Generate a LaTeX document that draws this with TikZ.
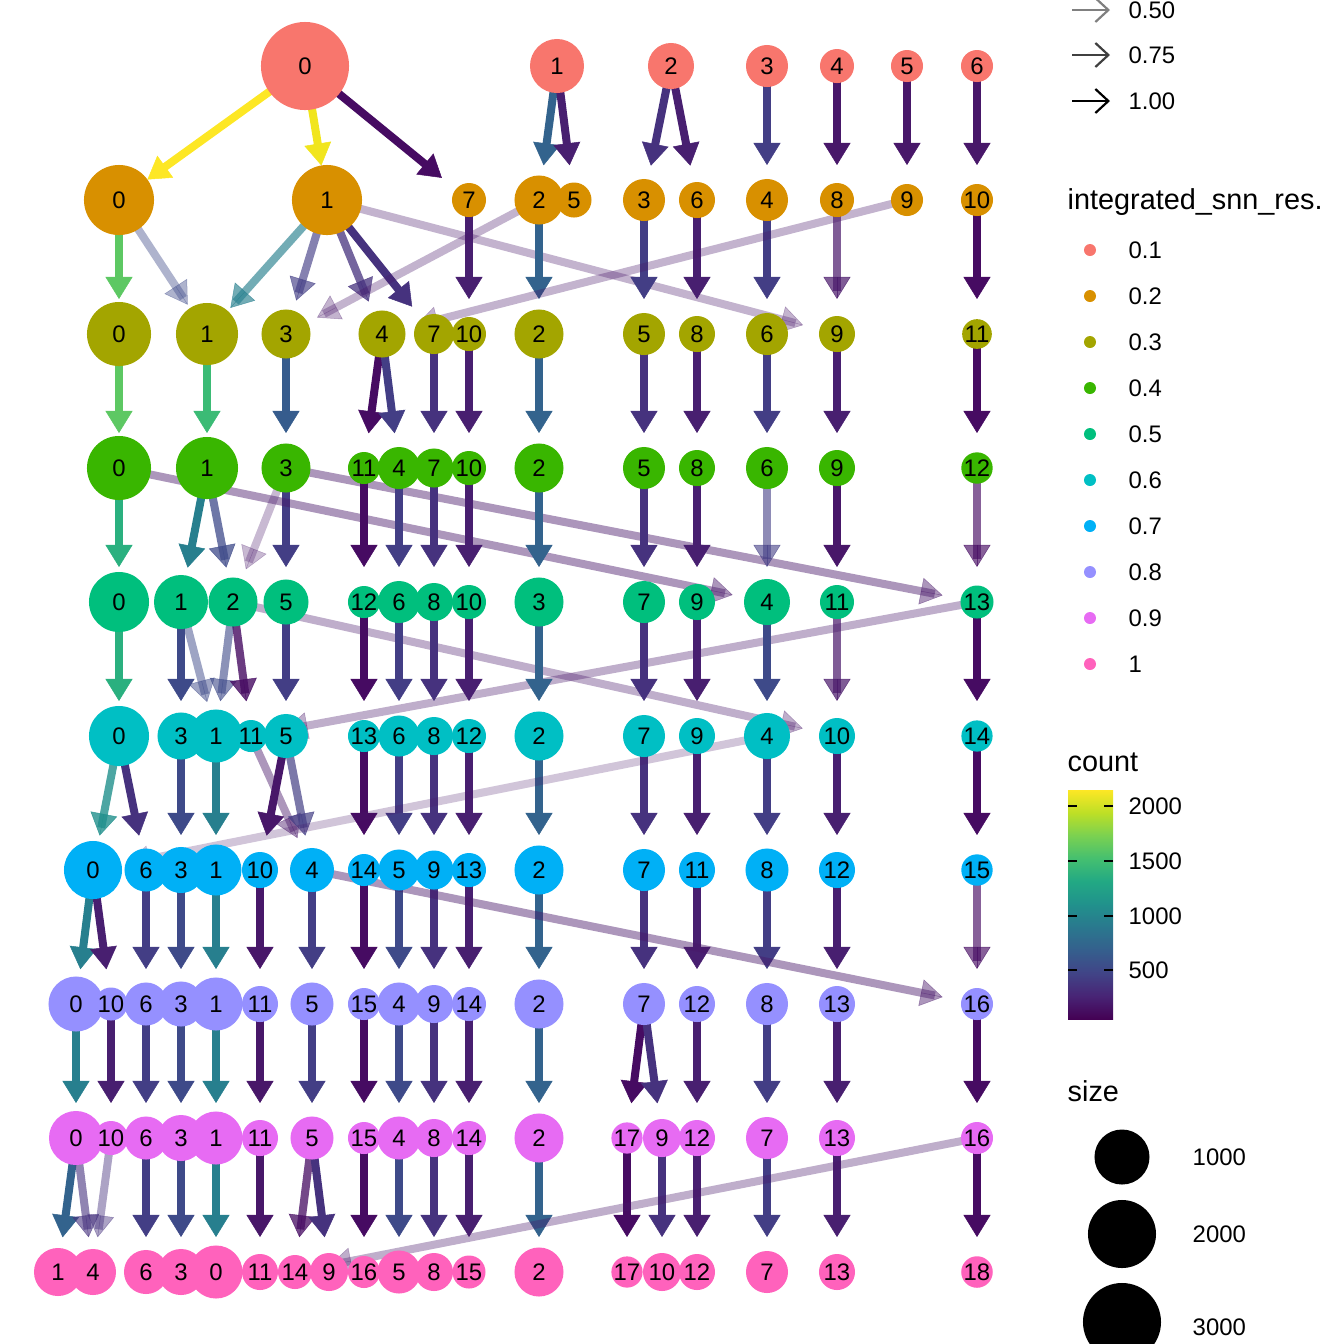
\documentclass[tikz,border=0pt]{standalone}
\usepackage{fontspec}
\setmainfont{Liberation Sans}
\usetikzlibrary{arrows.meta, backgrounds, calc}

\definecolor{r1}{HTML}{F8766D}
\definecolor{r2}{HTML}{D89000}
\definecolor{r3}{HTML}{A3A500}
\definecolor{r4}{HTML}{39B600}
\definecolor{r5}{HTML}{00BF7D}
\definecolor{r6}{HTML}{00BFC4}
\definecolor{r7}{HTML}{00B0F6}
\definecolor{r8}{HTML}{9590FF}
\definecolor{r9}{HTML}{E76BF3}
\definecolor{r10}{HTML}{FF62BC}

\definecolor{vA}{HTML}{FDE725}
\definecolor{vB}{HTML}{F1E51D}
\definecolor{vC}{HTML}{5DC863}
\definecolor{vD}{HTML}{3BBB75}
\definecolor{vE}{HTML}{2AB07F}
\definecolor{vF}{HTML}{21908C}
\definecolor{vG}{HTML}{277F8E}
\definecolor{vH}{HTML}{33638D}
\definecolor{vI}{HTML}{365C8D}
\definecolor{vJ}{HTML}{3E4A89}
\definecolor{vK}{HTML}{433E85}
\definecolor{vL}{HTML}{46327E}
\definecolor{vN}{HTML}{481F70}
\definecolor{vO}{HTML}{481769}
\definecolor{vP}{HTML}{460B62}

\definecolor{w0}{HTML}{440154}
\definecolor{w1}{HTML}{482475}
\definecolor{w2}{HTML}{414487}
\definecolor{w3}{HTML}{355F8D}
\definecolor{w4}{HTML}{2A788E}
\definecolor{w5}{HTML}{21918C}
\definecolor{w6}{HTML}{22A884}
\definecolor{w7}{HTML}{44BF70}
\definecolor{w8}{HTML}{7AD151}
\definecolor{w9}{HTML}{BDDF26}
\definecolor{w10}{HTML}{FDE725}

\pgfdeclareverticalshading{viridisbar}{100bp}{color(0bp)=(w0); color(25bp)=(w0); color(30bp)=(w1); color(35bp)=(w2); color(40bp)=(w3); color(45bp)=(w4); color(50bp)=(w5); color(55bp)=(w6); color(60bp)=(w7); color(65bp)=(w8); color(70bp)=(w9); color(75bp)=(w10); color(100bp)=(w10)}

\newcommand\clusterfont{\fontsize{6.8pt}{8pt}\selectfont}
\newcommand\keyfont{\fontsize{6.8pt}{8pt}\selectfont}
\newcommand\keytitlefont{\fontsize{8.2pt}{10pt}\selectfont}

\tikzset{
  clust/.style={circle, inner sep=0pt, font=\clusterfont},
  flow/.style={line width=0.08cm, shorten >=0.43cm},
  flowtip/.style={line width=0.005cm, -{Triangle[length=0.22cm, width=0.27cm]}},
  keyarrow/.style={line width=0.022cm, -{Straight Barb[length=0.13cm, width=0.24cm]}},
  lglabel/.style={anchor=west, inner sep=0pt, font=\keyfont},
  lgtitle/.style={anchor=base west, inner sep=0pt, font=\keytitlefont},
  tick/.style={line width=0.012cm, black}
}

\newcommand\linkrows[3]{%
  \foreach \src/\dst/\col/\op in {#3} {
    \draw[flow, \col, opacity=\op] (#1-\src.center) -- (#2-\dst.center);
    \draw[flowtip, \col, opacity=\op] ($(#2-\dst.center)!0.36cm!(#1-\src.center)$) -- ($(#2-\dst.center)!0.35cm!(#1-\src.center)$);
  }}

\begin{document}
\begin{tikzpicture}[x=0.01cm, y=-0.01cm]
	\useasboundingbox (0,0) rectangle (1344,1344);
	\clip (0,0) rectangle (1344,1344);
	
	\begin{scope}
		\foreach \x/\rad/\lab in {305/44/0, 557/27/1, 671/23/2, 767/21/3, 837/17/4, 907/16/5, 977/16/6}
			\node[clust, fill=r1, minimum size={0.02cm*\rad}] (res1-\lab) at (\x,66) {\lab};
		\foreach \x/\rad/\lab in {119/35/0, 327/35/1, 469/17/7, 539/24.5/2, 574/17.5/5, 644/21/3, 697/18/6, 767/21/4, 837/17/8, 907/16/9, 977/16/10}
			\node[clust, fill=r2, minimum size={0.02cm*\rad}] (res2-\lab) at (\x,200) {\lab};
		\foreach \x/\rad/\lab in {119/32/0, 207/31/1, 286/24.5/3, 382/23.5/4, 434/20/7, 469/17/10, 539/24.5/2, 644/21/5, 697/18/8, 767/21/6, 837/18/9, 977/13/11}
			\node[clust, fill=r3, minimum size={0.02cm*\rad}] (res3-\lab) at (\x,334) {\lab};
		\foreach \x/\rad/\lab in {119/32/0, 207/31/1, 286/24.5/3, 364/16/11, 399/21/4, 434/19.5/7, 469/17/10, 539/24.5/2, 644/21/5, 697/18/8, 767/21/6, 837/18/9, 977/13/12}
			\node[clust, fill=r4, minimum size={0.02cm*\rad}] (res4-\lab) at (\x,468) {\lab};
		\foreach \x/\rad/\lab in {119/30/0, 181/27/1, 233/24.5/2, 286/22.5/5, 364/16/12, 399/21/6, 434/19/8, 469/17/10, 539/24.5/3, 644/21/7, 697/18/9, 767/23/4, 837/17/11, 977/16.5/13}
			\node[clust, fill=r5, minimum size={0.02cm*\rad}] (res5-\lab) at (\x,602) {\lab};
		\foreach \x/\rad/\lab in {119/30/0, 181/23.5/3, 216/26.5/1, 251/16/11, 286/22/5, 364/16/13, 399/20.5/6, 434/19/8, 469/17/12, 539/24.5/2, 644/21/7, 697/18/9, 767/23/4, 837/18/10, 977/13/14}
			\node[clust, fill=r6, minimum size={0.02cm*\rad}] (res6-\lab) at (\x,736) {\lab};
		\foreach \x/\rad/\lab in {93/29/0, 146/21.5/6, 181/23/3, 216/25.5/1, 260/18/10, 312/22/4, 364/16/14, 399/20.5/5, 434/19.5/9, 469/17/13, 539/24.5/2, 644/21/7, 697/18/11, 767/21.5/8, 837/18/12, 977/13/15}
			\node[clust, fill=r7, minimum size={0.02cm*\rad}] (res7-\lab) at (\x,870) {\lab};
		\foreach \x/\rad/\lab in {76/27.5/0, 111/16.5/10, 146/21.5/6, 181/22.5/3, 216/26.5/1, 260/18/11, 312/21.5/5, 364/16/15, 399/21.5/4, 434/19/9, 469/17/14, 539/24.5/2, 644/21/7, 697/18/12, 767/21/8, 837/18/13, 977/16/16}
			\node[clust, fill=r8, minimum size={0.02cm*\rad}] (res8-\lab) at (\x,1004) {\lab};
		\foreach \x/\rad/\lab in {76/27/0, 111/17/10, 146/21.5/6, 181/23/3, 216/26.5/1, 260/18/11, 312/21.5/5, 364/16/15, 399/21.5/4, 434/19/8, 469/17/14, 539/24.5/2, 627/15/17, 662/19/9, 697/18/12, 767/21/7, 837/18/13, 977/16/16}
			\node[clust, fill=r9, minimum size={0.02cm*\rad}] (res9-\lab) at (\x,1138) {\lab};
		\foreach \x/\rad/\lab in {58/24/1, 93/23/4, 146/22/6, 181/23/3, 216/26.5/0, 260/18/11, 295/17/14, 329/19/9, 364/16/16, 399/21.5/5, 434/19/8, 469/16.5/15, 539/24.5/2, 627/15/17, 662/19/10, 697/18/12, 767/21/7, 837/18/13, 977/13/18}
			\node[clust, fill=r10, minimum size={0.02cm*\rad}] (res10-\lab) at (\x,1272) {\lab};
	\end{scope}
	
	\begin{scope}[on background layer]
		\linkrows{res1}{res2}{0/0/vA/1, 0/1/vB/1, 0/7/vP/1, 1/2/vH/1, 1/5/vN/1, 2/3/vL/1, 2/6/vN/1, 3/4/vK/1, 4/8/vO/1, 5/9/vO/1, 6/10/vO/1}
		\linkrows{res2}{res3}{0/0/vC/1, 0/1/vJ/0.42, 1/1/vG/0.65, 1/3/vK/0.65, 1/4/vL/0.75, 1/7/vL/1, 1/9/vO/0.33, 7/10/vN/1, 2/3/vO/0.33, 2/2/vH/1, 3/5/vK/1, 6/8/vN/1, 4/6/vK/1, 8/9/vO/0.7, 9/4/vO/0.33, 10/11/vP/1}
		\linkrows{res3}{res4}{0/0/vC/1, 1/1/vD/1, 3/3/vI/1, 4/11/vP/1, 4/4/vK/1, 7/7/vL/1, 10/10/vN/1, 2/2/vH/1, 5/5/vL/1, 8/8/vN/1, 6/6/vK/1, 9/9/vN/1, 11/12/vP/1}
		\linkrows{res4}{res5}{0/0/vE/1, 1/1/vG/1, 1/2/vJ/0.75, 3/2/vO/0.3, 3/5/vK/1, 0/4/vO/0.45, 3/13/vO/0.45, 11/12/vP/1, 4/6/vK/1, 7/8/vL/1, 10/10/vN/1, 2/3/vH/1, 5/7/vL/1, 8/9/vN/1, 6/4/vK/0.6, 9/11/vO/1, 12/13/vP/0.65}
		\linkrows{res5}{res6}{0/0/vE/1, 1/3/vJ/1, 1/1/vJ/0.5, 2/1/vJ/0.6, 2/11/vP/0.8, 2/10/vO/0.35, 5/5/vK/1, 13/11/vO/0.35, 12/13/vP/1, 6/6/vK/1, 8/8/vL/1, 10/12/vN/1, 3/2/vH/1, 7/7/vL/1, 9/9/vN/1, 4/4/vJ/1, 11/10/vO/0.7, 13/14/vP/1}
		\linkrows{res6}{res7}{0/0/vF/0.8, 0/6/vL/1, 3/3/vJ/1, 1/1/vG/1, 11/4/vO/0.45, 5/10/vO/1, 5/4/vK/0.7, 13/14/vP/1, 6/5/vK/1, 8/9/vL/1, 12/13/vN/1, 2/2/vH/1, 7/7/vL/1, 9/11/vN/1, 4/8/vK/1, 10/12/vN/1, 14/15/vP/1, 4/0/vO/0.25}
		\linkrows{res7}{res8}{0/0/vG/1, 0/10/vN/1, 6/6/vK/1, 3/3/vJ/1, 1/1/vG/1, 10/11/vO/1, 4/5/vK/1, 14/15/vP/1, 5/4/vJ/1, 9/9/vL/1, 13/14/vN/1, 2/2/vH/1, 7/7/vL/1, 11/12/vN/1, 8/8/vK/1, 12/13/vN/1, 15/16/vP/0.65, 4/16/vO/0.45}
		\linkrows{res8}{res9}{0/0/vG/1, 10/10/vN/1, 6/6/vK/1, 3/3/vJ/1, 1/1/vG/1, 11/11/vO/1, 5/5/vK/1, 15/15/vP/1, 4/4/vJ/1, 9/8/vL/1, 14/14/vN/1, 2/2/vH/1, 7/17/vP/1, 7/9/vL/1, 12/12/vN/1, 8/7/vK/1, 13/13/vN/1, 16/16/vP/1}
		\linkrows{res9}{res10}{0/1/vH/1, 0/4/vL/0.6, 10/4/vL/0.45, 6/6/vK/1, 3/3/vJ/1, 1/0/vG/1, 11/11/vO/1, 5/14/vP/0.75, 5/9/vL/1, 15/16/vP/1, 4/5/vJ/1, 8/8/vL/1, 14/15/vN/1, 2/2/vH/1, 17/17/vP/1, 9/10/vL/1, 12/12/vN/1, 7/7/vK/1, 13/13/vN/1, 16/18/vP/1, 16/14/vO/0.35}
	\end{scope}
	
	\begin{scope}
		\foreach \y/\p/\t in {10/50/0.50, 55/75/0.75, 101/100/1.00} {
			\draw[keyarrow, black!\p] (1072,\y) -- (1110,\y);
			\node[lglabel] (alpha\p) at (1128,\y) {\t};
		}
	\end{scope}
	
	\begin{scope}
		\node[lgtitle] (restitle) at (1067,209) {integrated\_snn\_res.};
		\foreach \k/\t [count=\i] in {r1/0.1, r2/0.2, r3/0.3, r4/0.4, r5/0.5, r6/0.6, r7/0.7, r8/0.8, r9/0.9, r10/1} {
			\fill[\k] (1090,{204+46*\i}) circle (0.06cm);
			\node[lglabel] (res\i) at (1128,{204+46*\i}) {\t};
		}
	\end{scope}
	
	\begin{scope}
		\node[lgtitle] (counttitle) at (1067,771) {count};
		\shade[shading=viridisbar] (1068,790) rectangle (1113,1019);
		\foreach \y/\t in {806/2000, 861/1500, 916/1000, 970/500} {
			\draw[tick] (1068,\y) -- ++(9,0);
			\draw[tick] (1113,\y) -- ++(-9,0);
			\node[lglabel] (count\t) at (1128,\y) {\t};
		}
	\end{scope}
	
	\begin{scope}
		\node[lgtitle] (sizetitle) at (1067,1101) {size};
		\fill (1122,1157) circle (0.275cm);
		\fill (1122,1234) circle (0.34cm);
		\fill (1122,1322) circle (0.39cm);
		\node[lglabel] (size1) at (1192,1157) {1000};
		\node[lglabel] (size2) at (1192,1234) {2000};
		\node[lglabel] (size3) at (1192,1327) {3000};
	\end{scope}
\end{tikzpicture}
\end{document}
